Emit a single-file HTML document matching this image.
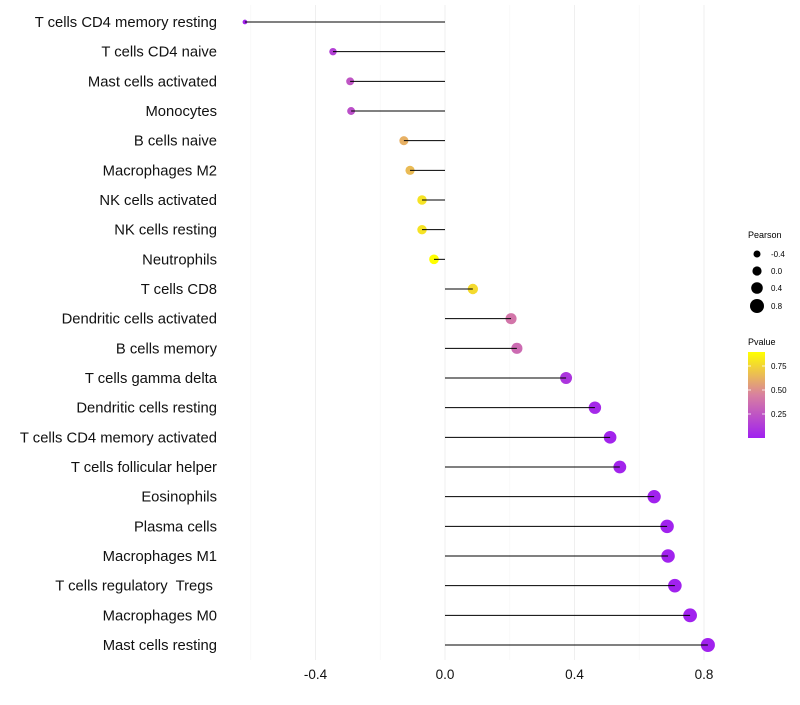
<!DOCTYPE html>
<html><head><meta charset="utf-8"><style>
body{margin:0;background:#fff;font-family:"Liberation Sans",sans-serif}
text{white-space:pre}
</style></head><body>
<svg id="c" width="800" height="700" xmlns="http://www.w3.org/2000/svg">
<defs><linearGradient id="g" x1="0" y1="1" x2="0" y2="0">
<stop offset="0" stop-color="#a020f0"/><stop offset="0.5" stop-color="#d880a0"/><stop offset="1" stop-color="#ffff00"/>
</linearGradient></defs>
<g id="grid"></g><g id="marks"></g><g id="labels"></g>
<g font-size="9" fill="#000">
<text x="748" y="238">Pearson</text>
<circle cx="757" cy="254" r="3.5"/><text x="771" y="257" font-size="8">-0.4</text>
<circle cx="757" cy="271" r="4.6"/><text x="771" y="274" font-size="8">0.0</text>
<circle cx="757" cy="288" r="5.8"/><text x="771" y="291" font-size="8">0.4</text>
<circle cx="757" cy="306" r="7"/><text x="771" y="309" font-size="8">0.8</text>
</g>
<g font-size="9">
<text x="748" y="345">Pvalue</text>
<rect x="748" y="352" width="17" height="86" fill="url(#g)"/>
<g stroke="#fff" stroke-width="0.8"><line x1="748" x2="751" y1="366" y2="366"/><line x1="762" x2="765" y1="366" y2="366"/><line x1="748" x2="751" y1="390" y2="390"/><line x1="762" x2="765" y1="390" y2="390"/><line x1="748" x2="751" y1="414" y2="414"/><line x1="762" x2="765" y1="414" y2="414"/></g>
<text x="771" y="369" font-size="8">0.75</text><text x="771" y="393" font-size="8">0.50</text><text x="771" y="417" font-size="8">0.25</text>
</g>
</svg>
<script>
const categories=["T cells CD4 memory resting","T cells CD4 naive","Mast cells activated","Monocytes","B cells naive","Macrophages M2","NK cells activated","NK cells resting","Neutrophils","T cells CD8","Dendritic cells activated","B cells memory","T cells gamma delta","Dendritic cells resting","T cells CD4 memory activated","T cells follicular helper","Eosinophils","Plasma cells","Macrophages M1","T cells regulatory  Tregs ","Macrophages M0","Mast cells resting"];
const pearson=[-0.618,-0.346,-0.293,-0.29,-0.127,-0.108,-0.071,-0.071,-0.034,0.086,0.204,0.222,0.374,0.463,0.51,0.54,0.646,0.686,0.689,0.71,0.757,0.812];
const pvalues=[0.02,0.15,0.25,0.22,0.62,0.66,0.8,0.8,0.9,0.77,0.4,0.35,0.1,0.04,0.02,0.02,0.01,0.01,0.01,0.01,0.01,0.01];
const tickVals=[-0.4,0.0,0.4,0.8];
const tickLabels=["-0.4","0.0","0.4","0.8"];
const minorVals=[-0.6,-0.2,0.2,0.6];
const NS="http://www.w3.org/2000/svg";
const x=v=>445+v*323.75;
const y=i=>22+i*(623/21);
const r=v=>Math.sqrt(Math.max(2,12.25+(v+0.4)*30.6));
function lerp(a,b,t){return a.map((c,i)=>Math.round(c+(b[i]-c)*t));}
function col(p){const t=Math.min(1,Math.max(0,p/0.9));const A=[160,32,240],B=[216,128,160],C=[255,255,0];const c=t<0.5?lerp(A,B,t/0.5):lerp(B,C,(t-0.5)/0.5);return`rgb(${c})`;}
function mk(tag,at,parent){const e=document.createElementNS(NS,tag);for(const k in at)e.setAttribute(k,at[k]);parent.appendChild(e);return e;}
const grid=document.getElementById('grid'),marks=document.getElementById('marks'),labels=document.getElementById('labels');
minorVals.forEach(v=>{const l=mk('line',{x1:x(v),x2:x(v),y1:5,y2:660,stroke:'#f5f5f5','stroke-width':0.6},grid);

});
tickVals.forEach((v,i)=>{const l=mk('line',{x1:x(v),x2:x(v),y1:5,y2:660,stroke:'#efefef','stroke-width':1},grid);


const t=mk('text',{x:x(v),y:679,'text-anchor':'middle','font-size':13.5,fill:'#111'},labels);t.textContent=tickLabels[i];

});
categories.forEach((c,i)=>{const yy=y(i);
const t=mk('text',{x:217,y:yy+5,'text-anchor':'end','font-size':14.8,fill:'#111'},labels);t.textContent=c;


const d=mk('circle',{cx:x(pearson[i]),cy:yy,r:r(pearson[i]),fill:col(pvalues[i])},marks);


const s=mk('line',{x1:x(0),x2:x(pearson[i]),y1:yy,y2:yy,stroke:'#000','stroke-width':1},marks);

});
</script>
</body></html>
